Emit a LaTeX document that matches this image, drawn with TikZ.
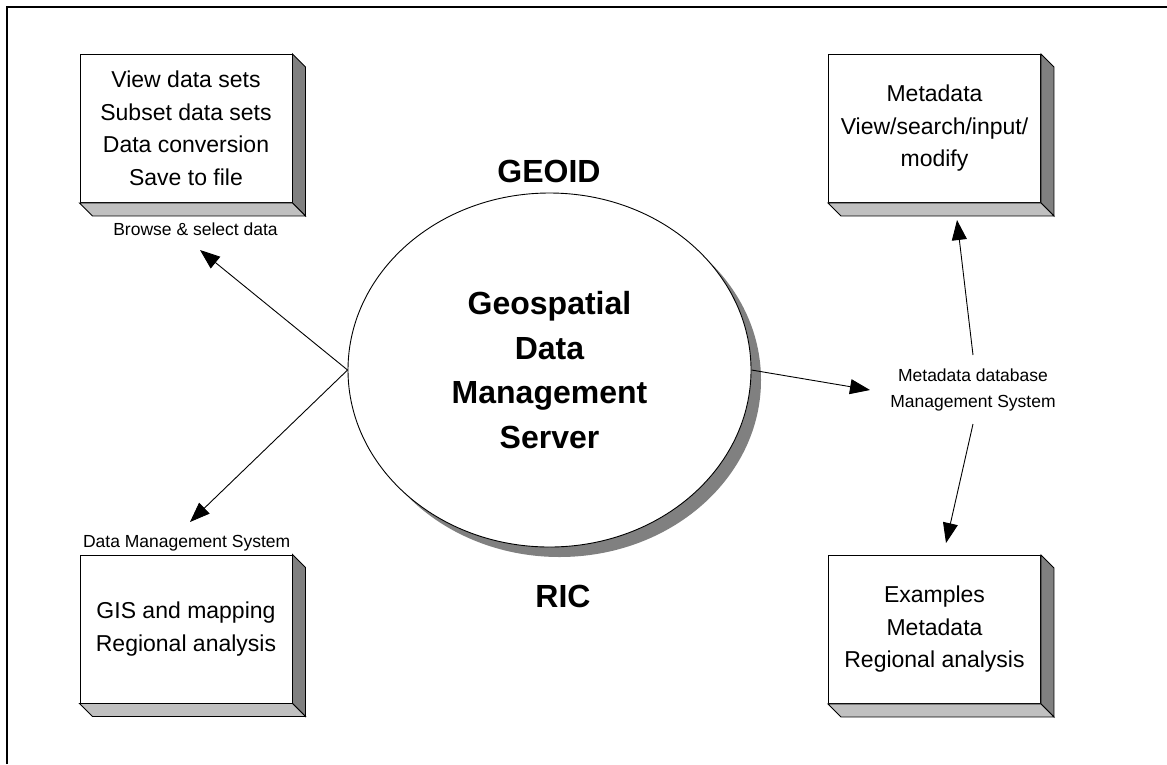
\documentclass[tikz,border=0pt]{standalone}
\usepackage{fontspec}
\setmainfont{Liberation Sans}
\usetikzlibrary{arrows.meta,shapes.geometric}
\definecolor{darkface}{HTML}{808080}
\definecolor{lightface}{HTML}{C0C0C0}
\tikzset{
  box/.style={draw, fill=white, line width=0.9pt, minimum width=212pt, minimum height=148pt,
    inner sep=0pt, align=center, font=\fontsize{23}{32.5}\selectfont},
  lbl/.style={font=\fontsize{17.5}{26}\selectfont, inner sep=0pt, align=center},
  big/.style={font=\fontsize{32}{44.4}\selectfont\bfseries, inner sep=0pt, align=center},
  conn/.style={line width=0.9pt, -{Triangle[length=20pt,width=15pt]}},
  face/.style={draw=black, line width=0.9pt, line join=miter},
}
\newcommand\bevelbox[1]{%
  \filldraw[face, fill=darkface] (#1.north east) -- ([shift={(13,13)}]#1.north east)
    -- ([shift={(13,13)}]#1.south east) -- (#1.south east) -- cycle;
  \filldraw[face, fill=lightface] (#1.south west) -- ([shift={(13,13)}]#1.south west)
    -- ([shift={(13,13)}]#1.south east) -- (#1.south east) -- cycle;
}
\begin{document}
\begin{tikzpicture}[x=1pt,y=-1pt]
\useasboundingbox (0,0) rectangle (1167,764);
\fill[white] (0,0) rectangle (1167,764);
\draw[line width=2pt] (7,764) -- (7,7) -- (1167,7);

% boxes
\node[box] (tl) at (186,128.5) {View data sets\\Subset data sets\\Data conversion\\Save to file};
\node[box] (tr) at (934.5,128.5) {Metadata\\View/search/input/\\modify};
\node[box] (bl) at (186,629) {GIS and mapping\\Regional analysis};
\node[box] (br) at (934.5,629.5) {Examples\\Metadata\\Regional analysis};
\bevelbox{tl}
\bevelbox{tr}
\bevelbox{bl}
\bevelbox{br}

% server ellipse with shadow
\fill[darkface] (559.5,380) ellipse [x radius=201.5pt, y radius=177pt];
\node[ellipse, draw, fill=white, line width=0.9pt, minimum width=403pt, minimum height=354pt,
  inner sep=0pt, big] (srv) at (549.5,370) {Geospatial\\Data\\Management\\Server};

\node[big, anchor=base] (geoid) at (549,182.7) {GEOID};
\node[big, anchor=base] (ric) at (563,607) {RIC};

% labels
\node[lbl, anchor=base] (browse) at (195.5,235) {Browse \& select data};
\node[lbl, anchor=base] (dms) at (186.7,547) {Data Management System};
\node[lbl] (mdb) at (973,389.7) {Metadata database\\Management System};

% connector ends
\coordinate (tipbrowse) at (200,250);
\coordinate (tipdms) at (190,522);
\coordinate (tipmdb) at (870,390);
\coordinate (mdbup) at (973,355);
\coordinate (mdbdown) at (973,424);
\coordinate (tiptr) at (957,220);
\coordinate (tipbr) at (946,543);

\draw[conn] (srv.west) -- (tipbrowse);
\draw[conn] (srv.west) -- (tipdms);
\draw[conn] (srv.east) -- (tipmdb);
\draw[conn] (mdbup) -- (tiptr);
\draw[conn] (mdbdown) -- (tipbr);
\end{tikzpicture}
\end{document}
